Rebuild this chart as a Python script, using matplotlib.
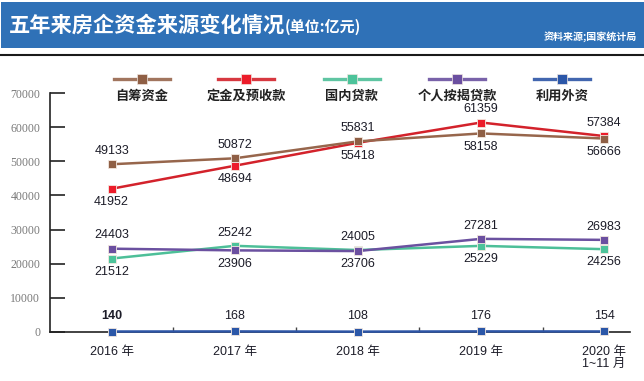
import matplotlib
matplotlib.use("Agg")
import matplotlib.pyplot as plt
from matplotlib.patches import Rectangle
from matplotlib.lines import Line2D

years = ["2016 年", "2017 年", "2018 年", "2019 年", "2020 年\n1~11 月"]
series_names = ["自筹资金", "定金及预收款", "国内贷款", "个人按揭贷款", "利用外资"]
self_funds = [49133, 50872, 55831, 58158, 56666]
deposits = [41952, 48694, 55418, 61359, 57384]
domestic_loans = [21512, 25242, 24005, 25229, 24256]
mortgages = [24403, 23906, 23706, 27281, 26983]
foreign = [140, 168, 108, 176, 154]

colors = {
    "自筹资金": "#97664c",
    "定金及预收款": "#d3222b",
    "国内贷款": "#4dbf98",
    "个人按揭贷款": "#6b51a0",
    "利用外资": "#2d55a6",
}
marker_colors = {
    "自筹资金": "#8f5f45",
    "定金及预收款": "#ec1c2a",
    "国内贷款": "#4cc39a",
    "个人按揭贷款": "#6b4fa0",
    "利用外资": "#2b57a8",
}
# label placement: +1 above, -1 below
placements = {
    "自筹资金": [1, 1, 1, -1, -1],
    "定金及预收款": [-1, -1, -1, 1, 1],
    "国内贷款": [-1, 1, 1, -1, -1],
    "个人按揭贷款": [1, -1, -1, 1, 1],
    "利用外资": [1, 1, 1, 1, 1],
}
data = {
    "自筹资金": self_funds,
    "定金及预收款": deposits,
    "国内贷款": domestic_loans,
    "个人按揭贷款": mortgages,
    "利用外资": foreign,
}

W, H = 644, 381
fig = plt.figure(figsize=(W / 100, H / 100), dpi=100)
fig.patch.set_facecolor("white")

cjk = ["Noto Sans CJK SC", "DejaVu Sans"]
mix = ["Liberation Sans", "Noto Sans CJK SC", "DejaVu Sans"]

# banner
fig.add_artist(Rectangle((1 / W, 1 - 48 / H), 1 - 1 / W, 46 / H,
                         transform=fig.transFigure, facecolor="#2f71b7",
                         edgecolor="none", zorder=0))
t_main = fig.text(9 / W, 1 - 25 / H, "五年来房企资金来源变化情况", family=cjk,
                  fontsize=15.3, fontweight="heavy", color="white", va="center", ha="left")
fig.canvas.draw()
bb = t_main.get_window_extent(renderer=fig.canvas.get_renderer())
fig.text(bb.x1 / W, 1 - 27 / H, "(单位:亿元)", family=cjk, fontsize=10.8,
         fontweight="bold", color="white", va="center", ha="left")
fig.text(637 / W, 1 - 37 / H, "资料来源;国家统计局", family=cjk, fontsize=7.2,
         fontweight="bold", color="white", va="center", ha="right")
fig.add_artist(Line2D([0, 1], [1 - 54.5 / H, 1 - 54.5 / H], transform=fig.transFigure,
                      color="#1a1a1a", lw=1.5))

ax = fig.add_axes([50 / W, 1 - 332 / H, (630 - 50) / W, (332 - 93) / H])
x = list(range(len(years)))

order = ["定金及预收款", "自筹资金", "国内贷款", "个人按揭贷款", "利用外资"]
for name in order:
    vals = data[name]
    ax.plot(x, vals, color=colors[name], lw=1.8, marker="s", markersize=5.5,
            markerfacecolor=marker_colors[name], markeredgecolor="#f3e8e0",
            markeredgewidth=0.6, zorder=3, clip_on=False)
    for xi, v, p in zip(x, vals, placements[name]):
        off = 11.0 if name == "利用外资" else 9.5
        ax.annotate(str(v), (xi, v), xytext=(0, off * p), textcoords="offset points",
                    ha="center", va="center", fontsize=9, family=mix,
                    color="#1c1c28",
                    fontweight="bold" if (name == "利用外资" and xi == 0) else "normal")

ax.set_xlim(-0.5, 4.21)
ax.set_ylim(0, 70000)
ax.set_yticks(range(0, 70001, 10000))
ax.set_yticklabels([str(v) for v in range(0, 70001, 10000)], family="Liberation Serif",
                   fontsize=8.5, color="#7a7a7a")
ax.tick_params(axis="y", direction="in", length=11, width=1.2, color="#222222", pad=7)
ax.set_xticks(x)
ax.set_xticklabels(years, family=mix, fontsize=9, color="#1c1c28", linespacing=1.05)
ax.tick_params(axis="x", which="major", length=0, pad=10)
ax.set_xticks([0.5, 1.5, 2.5, 3.5], minor=True)
ax.tick_params(axis="x", which="minor", direction="in", length=3.5, width=1, color="#444444")
for s in ["top", "right"]:
    ax.spines[s].set_visible(False)
ax.spines["left"].set_color("#222222")
ax.spines["left"].set_linewidth(1.2)
ax.spines["bottom"].set_color("#222222")
ax.spines["bottom"].set_linewidth(1.2)

# legend (custom: marker line above label)
centers = [142, 246, 352, 457, 562]
for name, cx in zip(series_names, centers):
    y = 1 - 79 / H
    fig.add_artist(Line2D([(cx - 28) / W, (cx + 28) / W], [y, y], transform=fig.transFigure,
                          color=colors[name], lw=2.4, alpha=0.9))
    fig.add_artist(Line2D([cx / W], [y], transform=fig.transFigure, marker="s",
                          markersize=7, markerfacecolor=marker_colors[name],
                          markeredgecolor="#f0e6e0", markeredgewidth=0.5, lw=0))
    fig.text(cx / W, 1 - 96 / H, name, family=cjk, fontsize=9.5, fontweight="bold",
             color="#222222", ha="center", va="center")

fig.savefig("out.png", dpi=100, facecolor="white")
